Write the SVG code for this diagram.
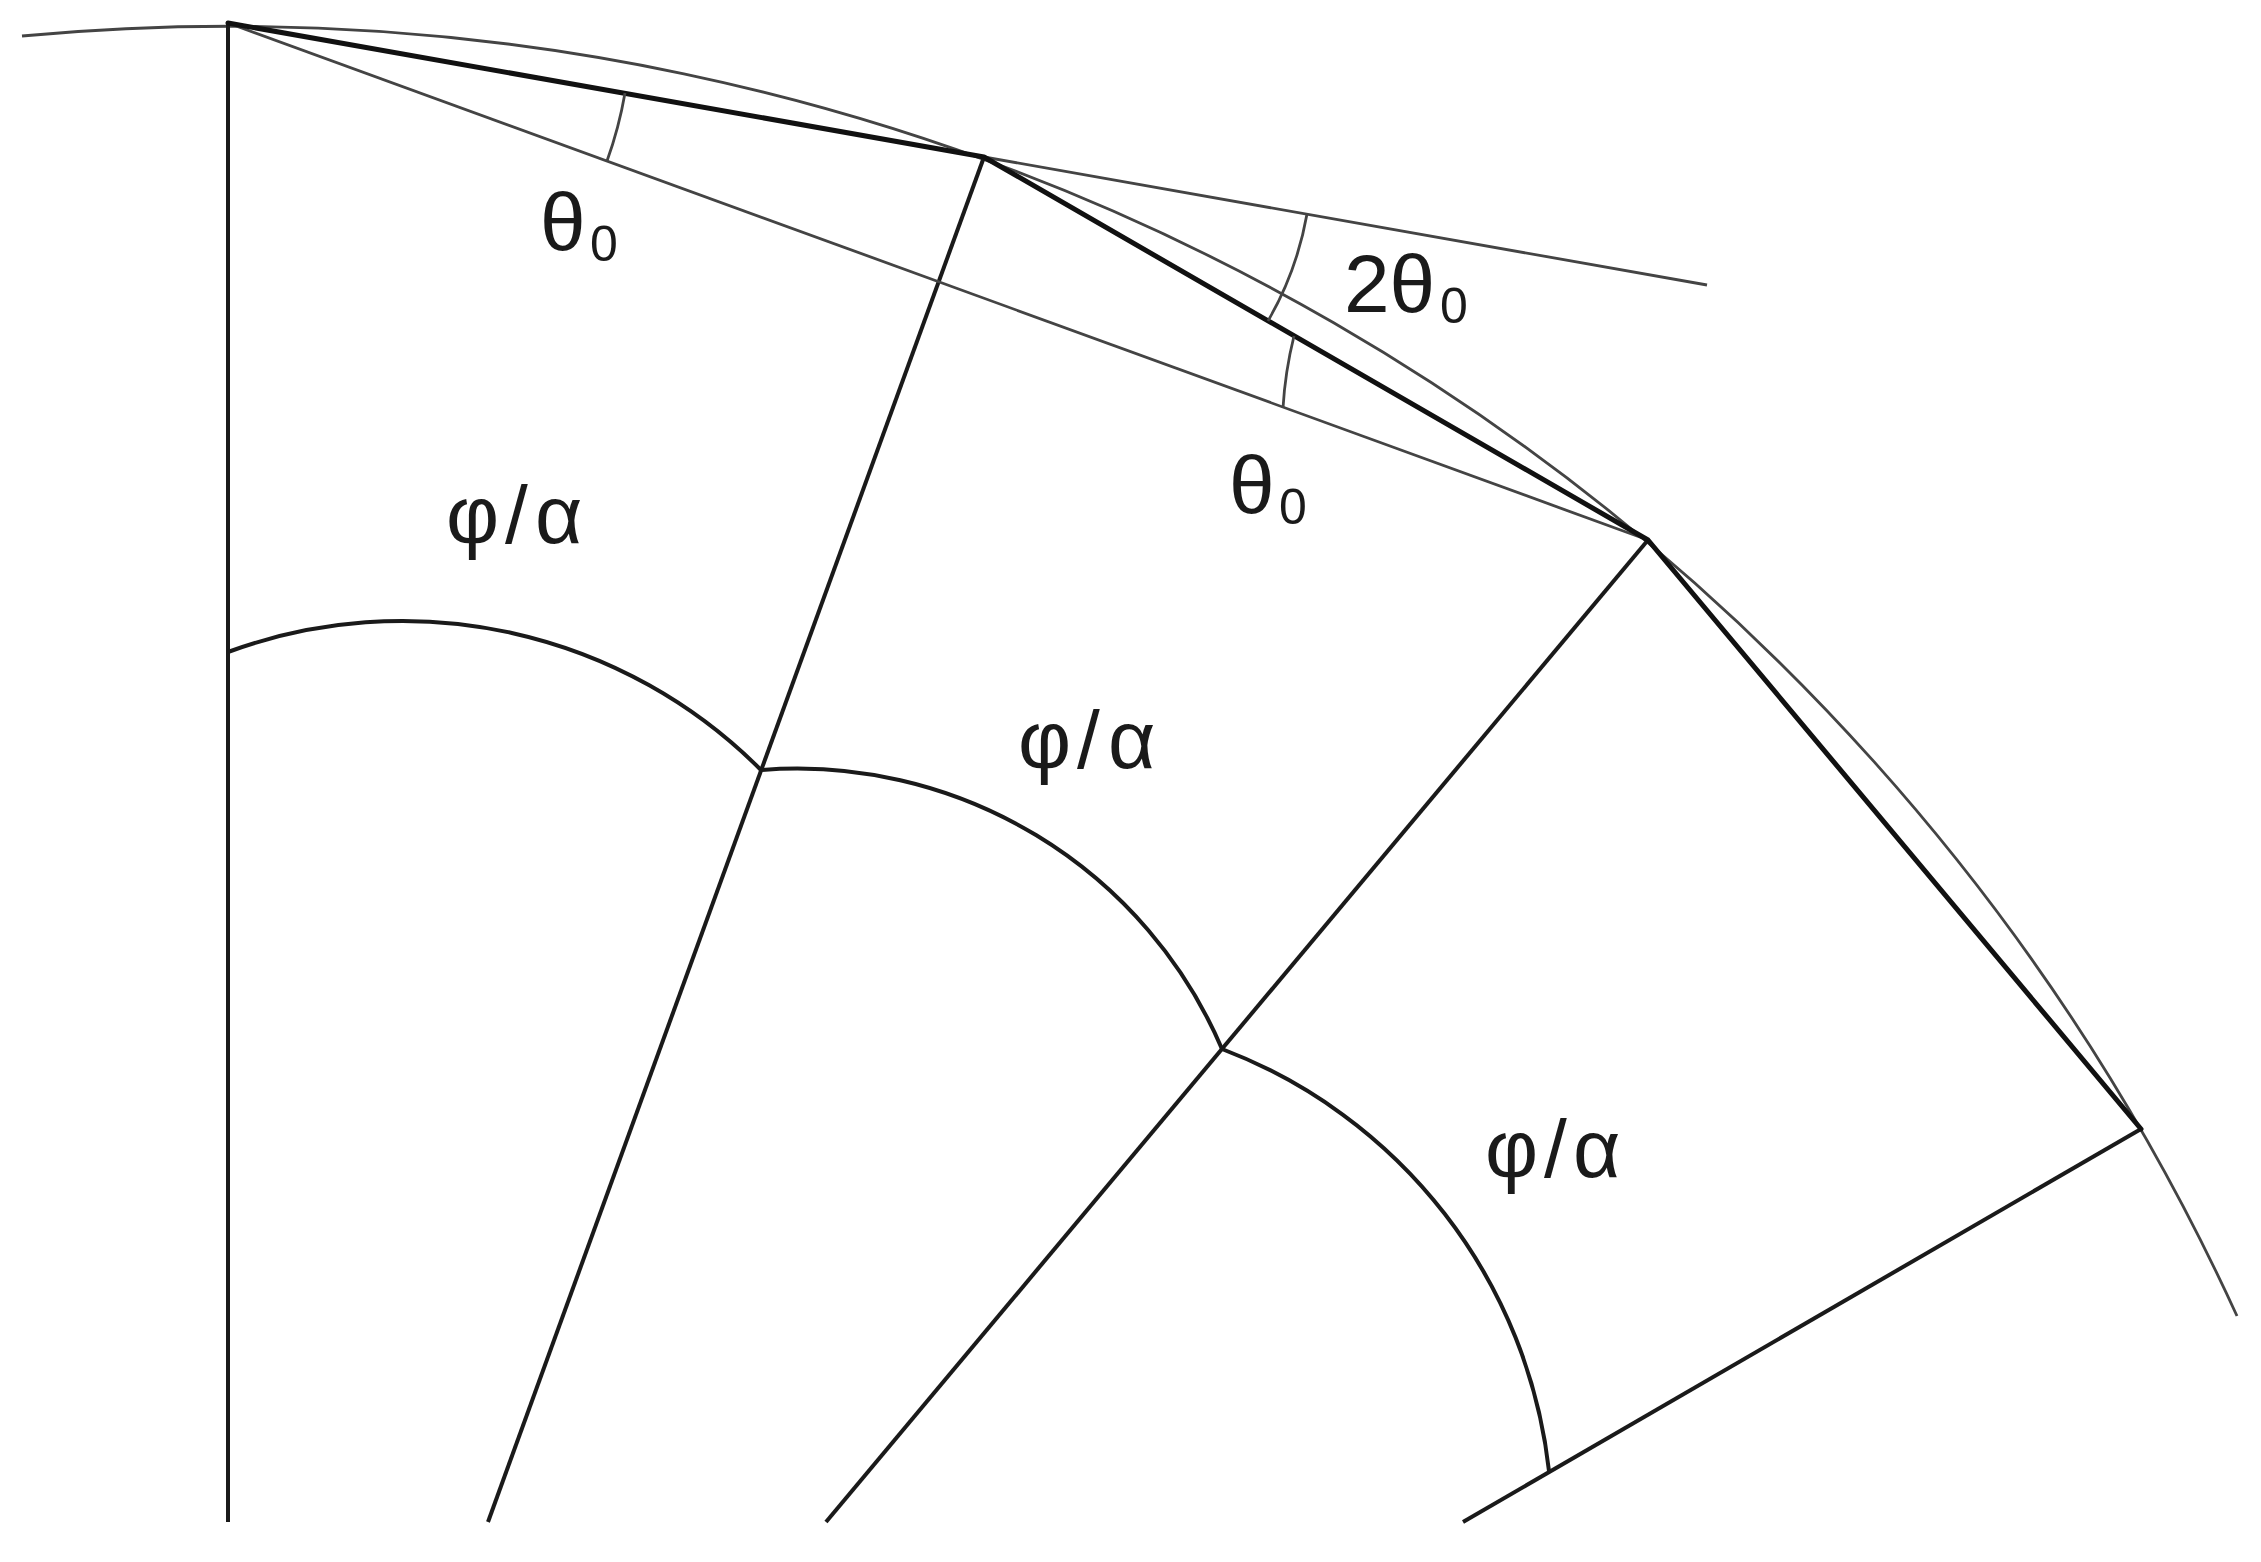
<svg xmlns="http://www.w3.org/2000/svg" width="2261" height="1562" viewBox="0 0 2261 1562">
<style>
.thick{fill:none;stroke:#111;stroke-width:5;stroke-linejoin:round;stroke-linecap:round}
.main{fill:none;stroke:#1a1a1a;stroke-width:4}
.thin{fill:none;stroke:#444;stroke-width:2.8}
.lbl{font-family:"Liberation Sans",Arial,sans-serif;font-size:82px;fill:#1a1a1a}
.sub{font-size:50px}
</style>
<rect width="2261" height="1562" fill="#fff"/>
<g id="connectors">
<path id="outer-arc" class="thin" d="M 22 36 A 2209 2209 0 0 1 2237 1316"/>
<line id="axis" class="main" x1="228" y1="23" x2="228" y2="1522"/>
<line id="radial1" class="main" x1="984" y1="157" x2="488" y2="1522"/>
<line id="radial2" class="main" x1="1648" y1="540" x2="826" y2="1522"/>
<line id="radial3" class="main" x1="2141" y1="1129" x2="1463" y2="1522"/>
<line id="chord-p0-p2" class="thin" x1="228" y1="23" x2="1648" y2="540"/>
<line id="tangent-ext" class="thin" x1="984" y1="157" x2="1707" y2="285"/>
<polyline id="chords" class="thick" points="228,23 984,157 1648,540 2141,1129"/>
<path id="ang-theta-1" class="thin" d="M 625 93 A 403 403 0 0 1 607 161"/>
<path id="ang-2theta" class="thin" d="M 1307 214 A 328 328 0 0 1 1268 321"/>
<path id="ang-theta-2" class="thin" d="M 1294 336 A 395 395 0 0 0 1283 408"/>
<path id="arc-phi-1" class="main" d="M 228 652 A 506 506 0 0 1 761 770"/>
<path id="arc-phi-2" class="main" d="M 761 770 A 462 462 0 0 1 1222 1049"/>
<path id="arc-phi-3" class="main" d="M 1222 1049 A 512 512 0 0 1 1549 1471"/>
</g>
<g id="label-theta-1"><text class="lbl" x="540" y="250">θ<tspan class="sub" x="590" y="261">0</tspan></text></g>
<g id="label-2theta"><text class="lbl" x="1344" y="312">2θ<tspan class="sub" x="1440" y="323">0</tspan></text></g>
<g id="label-theta-2"><text class="lbl" x="1229" y="513">θ<tspan class="sub" x="1279" y="524">0</tspan></text></g>
<g id="label-phi-1"><text class="lbl" x="446 505 535" y="543">φ/α</text></g>
<g id="label-phi-2"><text class="lbl" x="1018 1077 1108" y="768">φ/α</text></g>
<g id="label-phi-3"><text class="lbl" x="1485 1544 1573" y="1177">φ/α</text></g>
</svg>
